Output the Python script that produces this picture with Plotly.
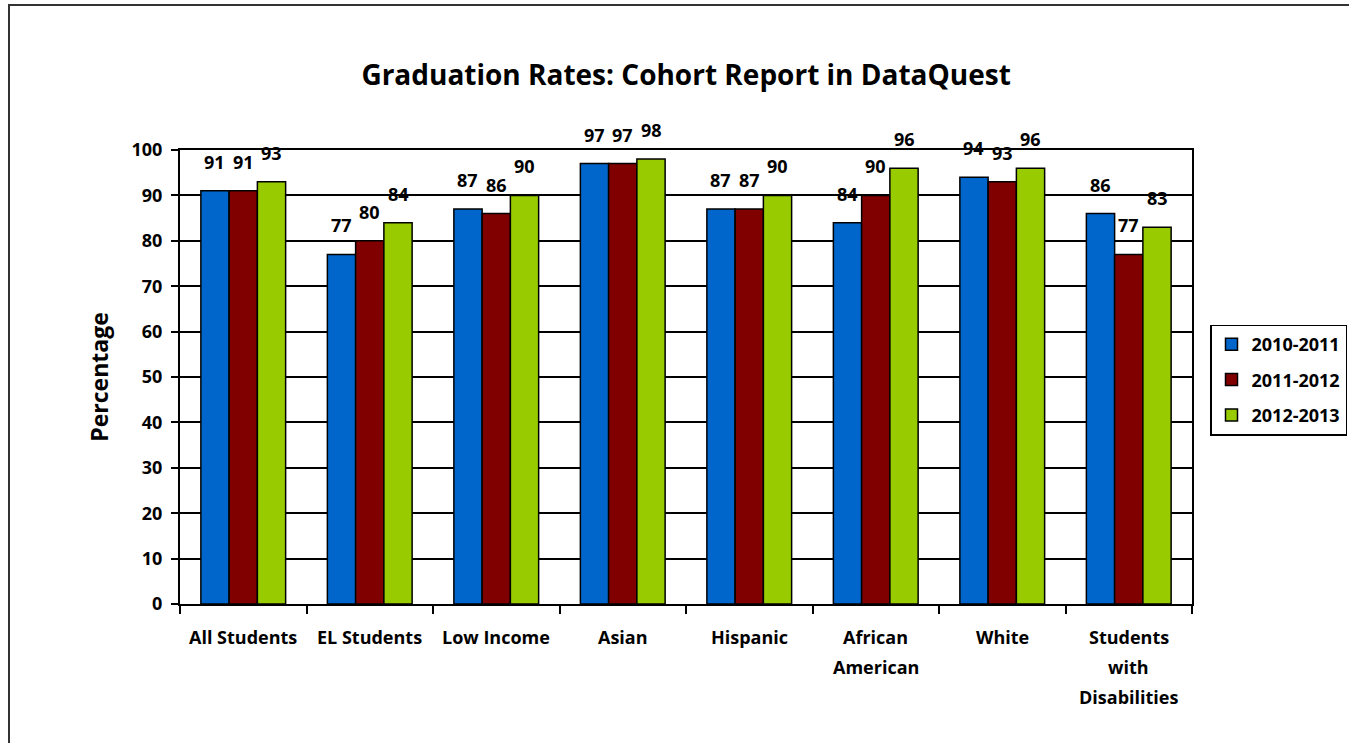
import plotly.graph_objects as go

categories = ["All Students", "EL Students", "Low Income", "Asian", "Hispanic",
              "African<br>American", "White", "Students<br>with<br>Disabilities"]
series_names = ["2010-2011", "2011-2012", "2012-2013"]
vals_2010_2011 = [91, 77, 87, 97, 87, 84, 94, 86]
vals_2011_2012 = [91, 80, 86, 97, 87, 90, 93, 77]
vals_2012_2013 = [93, 84, 90, 98, 90, 96, 96, 83]
colors = ["#0066CC", "#800000", "#99CC00"]
y_ticks = [0, 10, 20, 30, 40, 50, 60, 70, 80, 90, 100]

FONT = "Open Sans"
L, R, T, B = 180, 1192, 150, 604
W, H = 1349, 743
def px(x): return (x - L) / (R - L)
def py(y): return (B - y) / (B - T)

BARGAP = 0.33
cat_w = (R - L) / len(categories)
bar_w = cat_w * (1 - BARGAP) / 3

fig = go.Figure()
all_vals = [vals_2010_2011, vals_2011_2012, vals_2012_2013]
for name, vals, col in zip(series_names, all_vals, colors):
    fig.add_trace(go.Bar(
        name=name, x=categories, y=vals, legendgroup=name,
        marker=dict(color=col, line=dict(color="black", width=1.5)),
    ))

annotations = []
# data labels
for si, vals in enumerate(all_vals):
    for c, v in zip(categories, vals):
        annotations.append(dict(x=c, y=v, xref="x", yref="y", text=f"<b>{v}</b>",
                                showarrow=False, xanchor="center", yanchor="bottom",
                                xshift=(si - 1) * bar_w, yshift=15,
                                font=dict(family=FONT, size=18, color="black")))
# category labels (line spacing like the reference)
for c in categories:
    for li, line in enumerate(c.split("<br>")):
        annotations.append(dict(x=c, xref="x", y=py(637 + li * 30), yref="paper",
                                text=f"<b>{line}</b>", showarrow=False,
                                xanchor="center", yanchor="middle",
                                font=dict(family=FONT, size=18, color="black")))

fig.update_layout(
    width=W, height=H,
    margin=dict(l=L, r=W - R, t=T, b=H - B, autoexpand=False),
    paper_bgcolor="white", plot_bgcolor="white",
    barmode="group", bargap=BARGAP, bargroupgap=0,
    title=dict(text="<b>Graduation Rates: Cohort Report in DataQuest</b>",
               x=0.5086, xanchor="center", y=1 - 75 / H, yanchor="middle",
               font=dict(family=FONT, size=28, color="black")),
    font=dict(family=FONT, color="black"),
    legend=dict(x=px(1210), xanchor="left", y=py(380), yanchor="middle",
                bordercolor="black", borderwidth=1.5, bgcolor="white",
                font=dict(family=FONT, size=18, color="black", weight="bold"),
                traceorder="grouped", tracegroupgap=9, itemwidth=30),
    xaxis=dict(showline=True, linecolor="black", linewidth=2, mirror=True,
               ticks="outside", tickson="boundaries", ticklen=8, tickcolor="black", tickwidth=1.5,
               showticklabels=False, showgrid=False),
    yaxis=dict(range=[0, 100], tickvals=y_ticks, showline=True, linecolor="black", linewidth=2,
               mirror=True, ticks="outside", ticklen=7, tickcolor="black", tickwidth=1.5,
               showgrid=True, gridcolor="black", gridwidth=1.5, ticklabelstandoff=5,
               tickfont=dict(family=FONT, size=18, color="black", weight="bold"),
               title=dict(text="<b>Percentage</b>", font=dict(family=FONT, size=23, color="black"),
                          standoff=16)),
    annotations=annotations,
    shapes=[dict(type="rect", xref="paper", yref="paper",
                 x0=px(9), x1=px(1360), y0=py(755), y1=py(5),
                 line=dict(color="#333333", width=2), layer="below")],
)
fig.write_html("out.html", config={"displayModeBar": False},
               post_script="document.body.style.margin='0';")
